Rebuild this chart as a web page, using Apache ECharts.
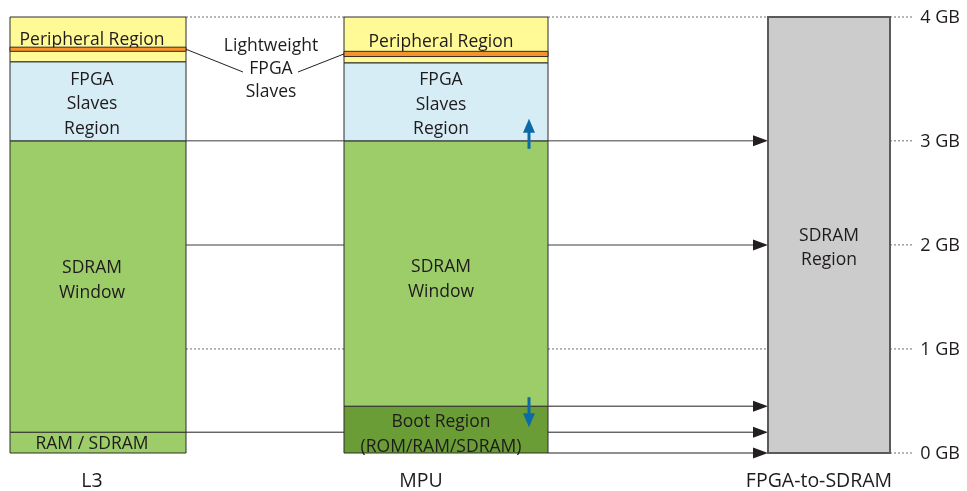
<!DOCTYPE html>
<html><head><meta charset="utf-8">
<script src="https://cdn.jsdelivr.net/npm/echarts@6/dist/echarts.min.js"></script>
<style>html,body{margin:0;padding:0;background:#fff}#c{width:967px;height:491px}</style>
</head><body><div id="c"></div>
<script>
// ---------------- data ----------------
const columns = ['L3', 'MPU', 'FPGA-to-SDRAM'];
// memory regions (levels in GB as drawn; the top gigabyte of the diagram is stretched)
const regionColumn = [0, 0, 0, 0, 0, 1, 1, 1, 1, 1, 2];
const regionBottom = [0, 0.2, 3.0, 3.76, 3.86, 0, 0.45, 3.0, 3.75, 3.81, 0];
const regionTop    = [0.2, 3.0, 3.76, 4.19, 3.90, 0.45, 3.0, 3.75, 4.19, 3.86, 4.19];
const regionName   = ['RAM / SDRAM', 'SDRAM\nWindow', 'FPGA\nSlaves\nRegion', 'Peripheral Region', '',
                      'Boot Region\n(ROM/RAM/SDRAM)', 'SDRAM\nWindow', 'FPGA\nSlaves\nRegion', 'Peripheral Region', '',
                      'SDRAM\nRegion'];
const regionKind   = ['ram', 'sdram', 'fpga', 'periph', 'lw', 'boot', 'sdram', 'fpga', 'periph', 'lw', 'fsdram'];
// address ticks
const tickLabels = ['0 GB', '1 GB', '2 GB', '3 GB', '4 GB'];
const tickLevels = [0, 1, 2, 3, 4.19];
// connectors
const l3ToMpuLevels = [4.19, 3.0, 2.0, 1.0, 0.2];
const l3ToMpuKind   = ['dotted', 'gray', 'gray', 'dotted', 'solid'];
const mpuToFpgaLevels = [4.19, 3.0, 2.0, 1.0, 0.45, 0.2, 0];
const mpuToFpgaKind   = ['dotted', 'grayArrow', 'grayArrow', 'dotted', 'arrow', 'arrow', 'arrow'];
// movable boundaries (blue arrows)
const movableLevels = [3.0, 0.45];
const movableDir = ['up', 'down'];
// lightweight FPGA slaves callout
const calloutText = 'Lightweight\nFPGA\nSlaves';

// ---------------- layout / style ----------------
const layout = {
  colX: [[10, 186], [344, 548], [768, 890]],
  colLabelX: [92, 421, 819],
  labelDx: [-6, -5, 0],
  labelDy: [1, -6, 3, 1, 0, 5, 6, 3, 2, 0, 13],
  segX: [[186, 344], [548, 768], [890, 913]],
  tickLabelX: 960,
  blueX: 529,
  callout: {x: 271, y: 69, leftEnd: [243, 72], rightStart: [298, 72]}
};
const FONT = 'Open Sans';
const FS = 17.5;
const TEXT = '#1f1b1c';
const fills = {ram: '#9dcd69', sdram: '#9dcd69', fpga: '#d6edf5', periph: '#fffa96',
               lw: '#f7922a', boot: '#6a9d36', fsdram: '#cccccc'};

function txt(x, y, text, align, size, lh) {
  return {type: 'text', x: x, y: y, style: {
    text: text, fill: TEXT, fontFamily: FONT, fontSize: size || FS, lineHeight: lh || 24,
    align: align || 'center', verticalAlign: 'middle'}};
}

const regionData = regionColumn.map((c, i) => [c, regionBottom[i], regionTop[i], i]);
function renderRegion(params, api) {
  const i = api.value(3);
  const col = regionColumn[i];
  const [xa, xb] = layout.colX[col];
  const pb = api.coord([xa, api.value(1)]);
  const pt = api.coord([xb, api.value(2)]);
  const kind = regionKind[i];
  const children = [{type: 'rect',
    shape: {x: pb[0], y: pt[1], width: pt[0] - pb[0], height: pb[1] - pt[1]},
    style: {fill: fills[kind], stroke: kind === 'fsdram' ? '#5a5a5a' : '#2d2d2d',
            lineWidth: kind === 'fsdram' ? 2 : 1}}];
  if (regionName[i]) {
    children.push(txt((pb[0] + pt[0]) / 2 + layout.labelDx[col],
                      (pb[1] + pt[1]) / 2 + layout.labelDy[i], regionName[i], 'center', FS, 24.5));
  }
  return {type: 'group', children: children};
}

const connData = [];
l3ToMpuLevels.forEach((lv, j) => connData.push([0, lv, j]));
mpuToFpgaLevels.forEach((lv, j) => connData.push([1, lv, j]));
tickLevels.forEach((lv, j) => connData.push([2, lv, j]));
function renderConn(params, api) {
  const seg = api.value(0), lv = api.value(1), j = api.value(2);
  const kind = seg === 0 ? l3ToMpuKind[j] : seg === 1 ? mpuToFpgaKind[j] : 'tick';
  const [xa, xb] = layout.segX[seg];
  const p1 = api.coord([xa, lv]);
  const p2 = api.coord([xb, lv]);
  const y = p1[1];
  const children = [];
  const hasArrow = kind === 'arrow' || kind === 'grayArrow';
  let stroke = '#231f20', lw = 1, dash = null;
  if (kind === 'dotted' || kind === 'tick') { stroke = '#6f6f6f'; dash = [2, 2]; }
  if (kind === 'gray' || kind === 'grayArrow') { stroke = '#7d7d7d'; lw = 1.5; }
  children.push({type: 'line', shape: {x1: p1[0], y1: y, x2: hasArrow ? p2[0] - 12 : p2[0], y2: y},
    style: {stroke: stroke, lineWidth: lw, lineDash: dash}});
  if (hasArrow) {
    children.push({type: 'polygon', shape: {points: [[p2[0], y], [p2[0] - 15, y - 5.5], [p2[0] - 15, y + 5.5]]},
      style: {fill: '#231f20'}});
  }
  if (kind === 'tick') {
    children.push(txt(layout.tickLabelX, y + 1, tickLabels[j], 'right', 18));
  }
  return {type: 'group', children: children};
}

const blueData = movableLevels.map((lv, i) => [0, lv, i]);
function renderBlue(params, api) {
  const i = api.value(2);
  const p = api.coord([layout.blueX, api.value(1)]);
  const x = p[0], L = p[1];
  const c = '#0d6aa8';
  if (movableDir[i] === 'up') {
    return {type: 'group', children: [
      {type: 'rect', shape: {x: x - 1.5, y: L - 9, width: 3, height: 17}, style: {fill: c}},
      {type: 'polygon', shape: {points: [[x, L - 22], [x - 6, L - 8], [x + 6, L - 8]]}, style: {fill: c}}]};
  }
  return {type: 'group', children: [
    {type: 'rect', shape: {x: x - 1.5, y: L - 9, width: 3, height: 17}, style: {fill: c}},
    {type: 'polygon', shape: {points: [[x, L + 21], [x - 6, L + 7], [x + 6, L + 7]]}, style: {fill: c}}]};
}

// callout anchors: centres of the lightweight bands
const lwIdx = regionKind.map((k, i) => k === 'lw' ? i : -1).filter(i => i >= 0);
const calloutData = [[0, (regionBottom[lwIdx[0]] + regionTop[lwIdx[0]]) / 2, (regionBottom[lwIdx[1]] + regionTop[lwIdx[1]]) / 2]];
function renderCallout(params, api) {
  const a = api.coord([layout.colX[0][1], api.value(1)]);
  const b = api.coord([layout.colX[1][0], api.value(2)]);
  const co = layout.callout;
  return {type: 'group', children: [
    {type: 'line', shape: {x1: a[0], y1: a[1], x2: co.leftEnd[0], y2: co.leftEnd[1]}, style: {stroke: '#231f20', lineWidth: 1}},
    {type: 'line', shape: {x1: co.rightStart[0], y1: co.rightStart[1], x2: b[0], y2: b[1]}, style: {stroke: '#231f20', lineWidth: 1}},
    txt(co.x, co.y, calloutText, 'center', FS, 23)
  ]};
}

const colLabelData = columns.map((c, i) => [0, 0, i]);
function renderColLabel(params, api) {
  const i = api.value(2);
  const p = api.coord([layout.colLabelX[i], 0]);
  return txt(p[0], p[1] + 28, columns[i], 'center', 19.5);
}

const chart = echarts.init(document.getElementById('c'));
chart.setOption({
  animation: false,
  backgroundColor: '#ffffff',
  grid: {left: 0, right: 0, top: 17, bottom: 38},
  xAxis: {type: 'value', min: 0, max: 967, show: false},
  yAxis: {type: 'value', min: 0, max: 4.19, show: false},
  series: [
    {type: 'custom', renderItem: renderConn, data: connData, encode: {x: 0, y: 1}, silent: true, z: 1},
    {type: 'custom', renderItem: renderRegion, data: regionData, encode: {x: 0, y: [1, 2]}, silent: true, z: 2},
    {type: 'custom', renderItem: renderBlue, data: blueData, encode: {x: 0, y: 1}, silent: true, z: 3},
    {type: 'custom', renderItem: renderCallout, data: calloutData, encode: {x: 0, y: 1}, silent: true, z: 3},
    {type: 'custom', renderItem: renderColLabel, data: colLabelData, encode: {x: 0, y: 1}, silent: true, z: 3}
  ]
});
</script>
</body></html>
